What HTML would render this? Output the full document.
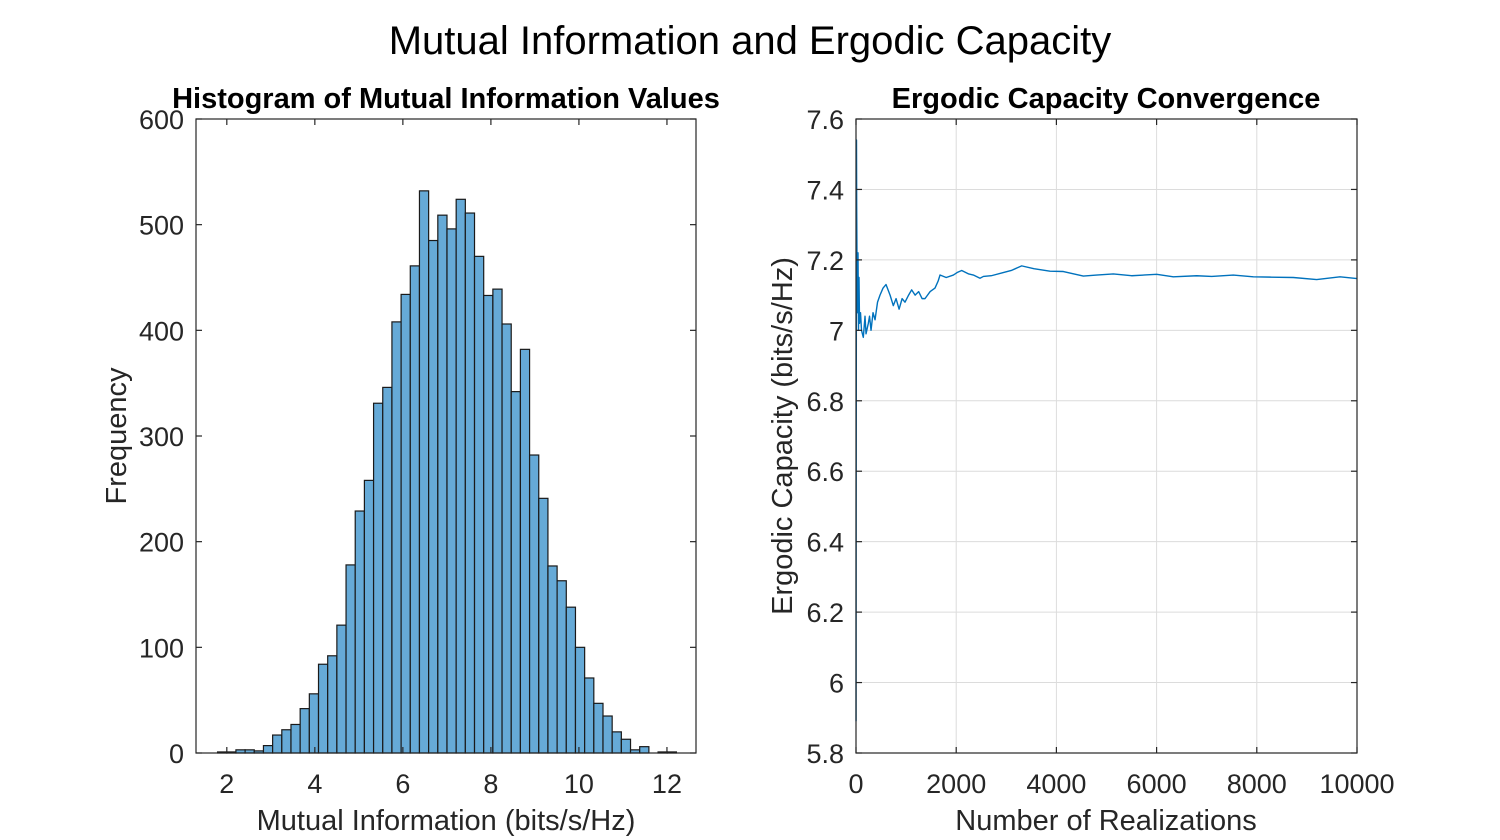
<!DOCTYPE html>
<html><head><meta charset="utf-8">
<style>
html,body{margin:0;padding:0;background:#fff;}
svg{display:block;font-family:"Liberation Sans",Arial,sans-serif;}
</style></head>
<body>
<svg id="fig" width="1500" height="840" viewBox="0 0 1500 840">
<text x="750" y="54" text-anchor="middle" font-size="40" fill="#000">Mutual Information and Ergodic Capacity</text>
<g id="left"></g>
<g id="right"></g>
</svg>
<script>
// Histogram data
const histCounts = [1,1,3,3,2,7,17,22,27,42,56,84,92,121,178,229,258,331,346,408,434,461,532,485,509,496,524,511,470,433,439,406,342,382,282,241,177,163,138,100,71,47,35,20,13,3,6,0,1,1];
const binStart = 1.79;
const binWidth = 0.2085;
const histXTicks = [2,4,6,8,10,12];
const histYTicks = [0,100,200,300,400,500,600];
// Convergence data
const convN = [1,3,6,10,14,20,25,30,35,40,50,60,70,90,110,146,180,200,246,270,300,340,380,430,479,540,599,680,745,800,860,920,978,1050,1111,1180,1250,1320,1377,1480,1577,1640,1677,1800,1943,2030,2110,2250,2343,2475,2543,2700,2940,3100,3307,3550,3872,4139,4538,4800,5136,5500,6001,6334,6800,7100,7531,7930,8300,8729,9195,9661,10000];
const convVal = [5.89,6.5,6.9,7.54,7.35,7.2,7.05,7.21,7.05,7.22,7.0,7.15,7.02,7.05,7.0,6.98,7.04,6.99,7.02,7.04,7.0,7.05,7.03,7.08,7.10,7.12,7.13,7.1,7.07,7.09,7.06,7.09,7.08,7.1,7.115,7.1,7.11,7.09,7.09,7.11,7.12,7.14,7.157,7.15,7.157,7.165,7.17,7.16,7.157,7.148,7.153,7.155,7.164,7.17,7.183,7.175,7.168,7.167,7.154,7.157,7.16,7.155,7.159,7.152,7.155,7.153,7.157,7.152,7.151,7.150,7.144,7.152,7.147];
const convXTicks = [0,2000,4000,6000,8000,10000];
const convYTicks = [5.8,6,6.2,6.4,6.6,6.8,7,7.2,7.4,7.6];

const NS="http://www.w3.org/2000/svg";
function mk(tag, attrs, parent){const e=document.createElementNS(NS,tag);for(const k in attrs)e.setAttribute(k,attrs[k]);parent.appendChild(e);return e;}
const TF=27, LF=29, TT=29;

// LEFT
const L=document.getElementById('left');
const lx0=196,lx1=696,ly0=119,ly1=753;
const hxMin=1.30,hxMax=12.66;
const hx=v=>lx0+(v-hxMin)/(hxMax-hxMin)*(lx1-lx0);
const hy=v=>ly1-v/600*(ly1-ly0);
histCounts.forEach((c,i)=>{
  const a=binStart+i*binWidth;
  const r=mk('rect',{x:hx(a),y:hy(c),width:hx(a+binWidth)-hx(a),height:ly1-hy(c),fill:'#66AAD7',stroke:'#1a1a1a','stroke-width':1.2},L);
  
  
});
mk('rect',{x:lx0,y:ly0,width:lx1-lx0,height:ly1-ly0,fill:'none',stroke:'#262626','stroke-width':1.2},L);
histXTicks.forEach(t=>{
  const x=hx(t);
  mk('line',{x1:x,y1:ly1,x2:x,y2:ly1-6,stroke:'#262626','stroke-width':1.2},L);
  mk('line',{x1:x,y1:ly0,x2:x,y2:ly0+6,stroke:'#262626','stroke-width':1.2},L);
  const tx=mk('text',{x:x,y:ly1+40,'text-anchor':'middle','font-size':TF,fill:'#262626'},L);
  tx.textContent=t;
  
  
});
histYTicks.forEach(t=>{
  const y=hy(t);
  mk('line',{x1:lx0,y1:y,x2:lx0+6,y2:y,stroke:'#262626','stroke-width':1.2},L);
  mk('line',{x1:lx1,y1:y,x2:lx1-6,y2:y,stroke:'#262626','stroke-width':1.2},L);
  const tx=mk('text',{x:lx0-12,y:y+10,'text-anchor':'end','font-size':TF,fill:'#262626'},L);
  tx.textContent=t;
  
  
});
let t1=mk('text',{x:446,y:108,'text-anchor':'middle','font-size':TT,'font-weight':'bold',fill:'#000'},L);
t1.textContent='Histogram of Mutual Information Values';


let xl1=mk('text',{x:446,y:830,'text-anchor':'middle','font-size':LF,fill:'#262626'},L);
xl1.textContent='Mutual Information (bits/s/Hz)';


let yl1=mk('text',{x:0,y:0,'text-anchor':'middle','font-size':LF,fill:'#262626',transform:'translate(126,436) rotate(-90)'},L);
yl1.textContent='Frequency';



// RIGHT
const R=document.getElementById('right');
const rx0=856,rx1=1357,ry0=119,ry1=753;
const cx=v=>rx0+v/10000*(rx1-rx0);
const cy=v=>ry1-(v-5.8)/1.8*(ry1-ry0);
convXTicks.forEach(t=>{ if(t>0&&t<10000) mk('line',{x1:cx(t),y1:ry0,x2:cx(t),y2:ry1,stroke:'#dcdcdc','stroke-width':1},R);});
convYTicks.forEach(t=>{ if(t>5.8&&t<7.6) mk('line',{x1:rx0,y1:cy(t),x2:rx1,y2:cy(t),stroke:'#dcdcdc','stroke-width':1},R);});
let d='';
convN.forEach((n,i)=>{d+=(i?'L':'M')+cx(n).toFixed(2)+','+cy(convVal[i]).toFixed(2);});
const p=mk('path',{d:d,fill:'none',stroke:'#0072BD','stroke-width':1.4,'stroke-linejoin':'round'},R);


mk('rect',{x:rx0,y:ry0,width:rx1-rx0,height:ry1-ry0,fill:'none',stroke:'#262626','stroke-width':1.2},R);
convXTicks.forEach(t=>{
  const x=cx(t);
  mk('line',{x1:x,y1:ry1,x2:x,y2:ry1-6,stroke:'#262626','stroke-width':1.2},R);
  mk('line',{x1:x,y1:ry0,x2:x,y2:ry0+6,stroke:'#262626','stroke-width':1.2},R);
  const tx=mk('text',{x:x,y:ry1+40,'text-anchor':'middle','font-size':TF,fill:'#262626'},R);
  tx.textContent=t;
  
  
});
convYTicks.forEach(t=>{
  const y=cy(t);
  mk('line',{x1:rx0,y1:y,x2:rx0+6,y2:y,stroke:'#262626','stroke-width':1.2},R);
  mk('line',{x1:rx1,y1:y,x2:rx1-6,y2:y,stroke:'#262626','stroke-width':1.2},R);
  const tx=mk('text',{x:rx0-12,y:y+10,'text-anchor':'end','font-size':TF,fill:'#262626'},R);
  tx.textContent=String(Math.round(t*10)/10);
  
  
});
let t2=mk('text',{x:1106,y:108,'text-anchor':'middle','font-size':TT,'font-weight':'bold',fill:'#000'},R);
t2.textContent='Ergodic Capacity Convergence';


let xl2=mk('text',{x:1106,y:830,'text-anchor':'middle','font-size':LF,fill:'#262626'},R);
xl2.textContent='Number of Realizations';


let yl2=mk('text',{x:0,y:0,'text-anchor':'middle','font-size':LF,fill:'#262626',transform:'translate(792,436) rotate(-90)'},R);
yl2.textContent='Ergodic Capacity (bits/s/Hz)';


</script>
</body></html>
